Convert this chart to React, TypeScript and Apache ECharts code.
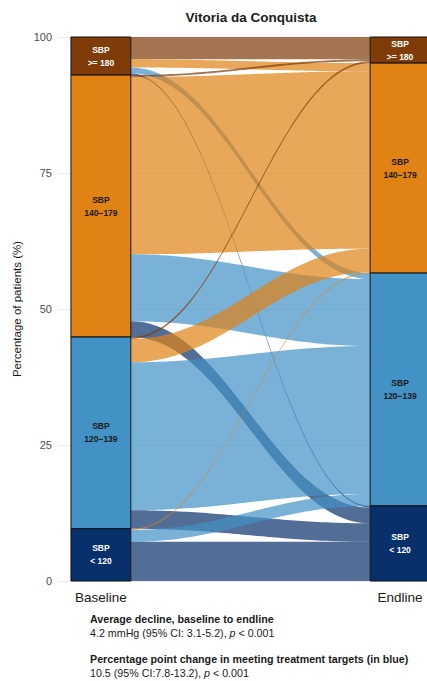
import React, { useEffect, useRef } from "react";
import * as echarts from "echarts";

// ---- data -------------------------------------------------------------
const STRATA = ["SBP\n>= 180", "SBP\n140−179", "SBP\n120−139", "SBP\n< 120"];
const STRATA_COLORS = ["#7f3b08", "#e08214", "#4292c6", "#08306b"];
const LABEL_COLORS = ["#ffffff", "#1a1a1a", "#1a1a1a", "#ffffff"];
const TIMEPOINTS = ["Baseline", "Endline"];
const TIME_X = [1, 2];

// flows (% of patients): rows = baseline stratum, columns = endline stratum
const FROM_180 = [4.1, 1.5, 1.1, 0.3];
const FROM_140 = [0.35, 32.6, 12.3, 2.9];
const FROM_120 = [0.35, 4.3, 27.2, 3.4];
const FROM_BELOW_120 = [0, 0.2, 2.2, 7.2];
const FLOWS = [FROM_180, FROM_140, FROM_120, FROM_BELOW_120];

const TITLE = "Vitoria da Conquista";
const Y_NAME = "Percentage of patients (%)";
const NOTE1_HEAD = "Average decline, baseline to endline";
const NOTE1_BODY = "4.2 mmHg (95% CI: 3.1-5.2), {i|p} < 0.001";
const NOTE2_HEAD = "Percentage point change in meeting treatment targets (in blue)";
const NOTE2_BODY = "10.5 (95% CI:7.8-13.2), {i|p} < 0.001";

// ---- helpers ----------------------------------------------------------
const HALF = 0.1; // half width of a stratum bar (x units)
const K = 0.4; // curve control fraction
const FONT = '"Liberation Sans", Arial, Helvetica, sans-serif';
const NOTE_SIZE = 10.7;

function rgba(hex: string, a: number) {
  const n = parseInt(hex.slice(1), 16);
  return `rgba(${(n >> 16) & 255},${(n >> 8) & 255},${n & 255},${a})`;
}

function buildData() {
  const n = STRATA.length;
  const baseTot = FLOWS.map((r) => r.reduce((s, v) => s + v, 0));
  const endTot = STRATA.map((_, j) => FLOWS.reduce((s, r) => s + r[j], 0));

  const strata: number[][] = [];
  let top = 100;
  for (let s = 0; s < n; s++) {
    strata.push([TIME_X[0], top, top - baseTot[s], s]);
    top -= baseTot[s];
  }
  top = 100;
  for (let s = 0; s < n; s++) {
    strata.push([TIME_X[1], top, top - endTot[s], s]);
    top -= endTot[s];
  }

  const leftTop: number[][] = FLOWS.map(() => new Array(n).fill(0));
  const rightTop: number[][] = FLOWS.map(() => new Array(n).fill(0));
  top = 100;
  for (let i = 0; i < n; i++)
    for (let j = 0; j < n; j++) {
      leftTop[i][j] = top;
      top -= FLOWS[i][j];
    }
  top = 100;
  for (let j = 0; j < n; j++)
    for (let i = 0; i < n; i++) {
      rightTop[i][j] = top;
      top -= FLOWS[i][j];
    }

  const flows: number[][] = [];
  for (let i = 0; i < n; i++)
    for (let j = 0; j < n; j++) {
      const v = FLOWS[i][j];
      if (v <= 0) continue;
      flows.push([leftTop[i][j], leftTop[i][j] - v, rightTop[i][j], rightTop[i][j] - v, j]);
    }
  return { strata, flows };
}

export default function App() {
  const ref = useRef<HTMLDivElement>(null);

  useEffect(() => {
    if (!ref.current) return;
    const chart = echarts.init(ref.current, null, { renderer: "svg" });
    const { strata, flows } = buildData();

    const noteHead = (text: string, top: number) => ({
      type: "text",
      left: 90,
      top,
      style: { text, fontSize: NOTE_SIZE, fontWeight: "bold", fill: "#1a1a1a", fontFamily: FONT },
    });
    const noteBody = (text: string, top: number) => ({
      type: "text",
      left: 90,
      top,
      style: {
        text,
        fontSize: NOTE_SIZE,
        fill: "#1a1a1a",
        fontFamily: FONT,
        rich: { i: { fontStyle: "italic", fontSize: NOTE_SIZE, fontFamily: FONT, fill: "#1a1a1a" } },
      },
    });

    const option: any = {
      animation: false,
      backgroundColor: "#ffffff",
      textStyle: { fontFamily: FONT },
      title: {
        text: TITLE,
        left: 251,
        top: 10,
        padding: 0,
        textAlign: "center",
        textStyle: { fontSize: 13.5, fontWeight: "bold", color: "#1a1a1a", fontFamily: FONT },
      },
      grid: { left: 59, right: 0, top: 37, bottom: 100, containLabel: false },
      xAxis: {
        type: "value",
        min: 0.86,
        max: 2.09,
        axisLine: { show: false },
        axisTick: { show: false },
        splitLine: { show: false },
        axisLabel: {
          customValues: TIME_X,
          formatter: (v: number) => TIMEPOINTS[Math.round(v) - 1] ?? "",
          fontSize: 13.5,
          color: "#1a1a1a",
          margin: 9,
          fontFamily: FONT,
        },
      },
      yAxis: {
        type: "value",
        min: 0,
        max: 100,
        interval: 25,
        name: Y_NAME,
        nameLocation: "middle",
        nameRotate: 90,
        nameGap: 36,
        nameTextStyle: { fontSize: 11.5, color: "#1a1a1a", fontFamily: FONT },
        axisLine: { show: false },
        axisTick: { show: false },
        axisLabel: { color: "#4d4d4d", fontSize: 11, margin: 7, fontFamily: FONT },
        splitLine: { lineStyle: { color: "#ebebeb", width: 1 } },
      },
      series: [
        {
          type: "custom",
          name: "flows",
          silent: true,
          clip: false,
          data: flows,
          renderItem: (_params: any, api: any) => {
            const lt = api.value(0);
            const lb = api.value(1);
            const rt = api.value(2);
            const rb = api.value(3);
            const c = api.value(4);
            const px0 = api.coord([TIME_X[0] + HALF, 0])[0];
            const px1 = api.coord([TIME_X[1] - HALF, 0])[0];
            const yp = (v: number) => api.coord([TIME_X[0], v])[1];
            const cx1 = px0 + K * (px1 - px0);
            const cx2 = px1 - K * (px1 - px0);
            const N = 60;
            const pt = (t: number, ya: number, yb: number) => {
              const u = 1 - t;
              const x = u * u * u * px0 + 3 * u * u * t * cx1 + 3 * u * t * t * cx2 + t * t * t * px1;
              const s = 3 * u * t * t + t * t * t;
              return [x, ya + (yb - ya) * s];
            };
            const points: number[][] = [];
            const a0 = yp(lt), a1 = yp(rt), b0 = yp(lb), b1 = yp(rb);
            for (let k = 0; k <= N; k++) points.push(pt(k / N, a0, a1));
            for (let k = N; k >= 0; k--) points.push(pt(k / N, b0, b1));
            return {
              type: "polygon",
              shape: { points },
              style: { fill: rgba(STRATA_COLORS[c], 0.7), stroke: null },
            };
          },
          z: 2,
        },
        {
          type: "custom",
          name: "strata",
          silent: true,
          clip: false,
          data: strata,
          renderItem: (_params: any, api: any) => {
            const cx = api.value(0);
            const top = api.value(1);
            const bot = api.value(2);
            const s = api.value(3);
            const p1 = api.coord([cx - HALF, top]);
            const p2 = api.coord([cx + HALF, bot]);
            return {
              type: "group",
              children: [
                {
                  type: "rect",
                  shape: { x: p1[0], y: p1[1], width: p2[0] - p1[0], height: p2[1] - p1[1] },
                  style: { fill: STRATA_COLORS[s], stroke: "#111111", lineWidth: 1 },
                },
                {
                  type: "text",
                  x: (p1[0] + p2[0]) / 2,
                  y: (p1[1] + p2[1]) / 2,
                  style: {
                    text: STRATA[s],
                    fill: LABEL_COLORS[s],
                    fontSize: 8.5,
                    fontWeight: "bold",
                    fontFamily: FONT,
                    align: "center",
                    verticalAlign: "middle",
                    lineHeight: 13,
                  },
                },
              ],
            };
          },
          z: 3,
        },
      ],
      graphic: [
        noteHead(NOTE1_HEAD, 613),
        noteBody(NOTE1_BODY, 627),
        noteHead(NOTE2_HEAD, 653),
        noteBody(NOTE2_BODY, 667),
      ],
    };

    chart.setOption(option);
    return () => chart.dispose();
  }, []);

  return (
    <div
      ref={ref}
      style={{ position: "absolute", left: 0, top: 0, width: 427, height: 681 }}
    />
  );
}
